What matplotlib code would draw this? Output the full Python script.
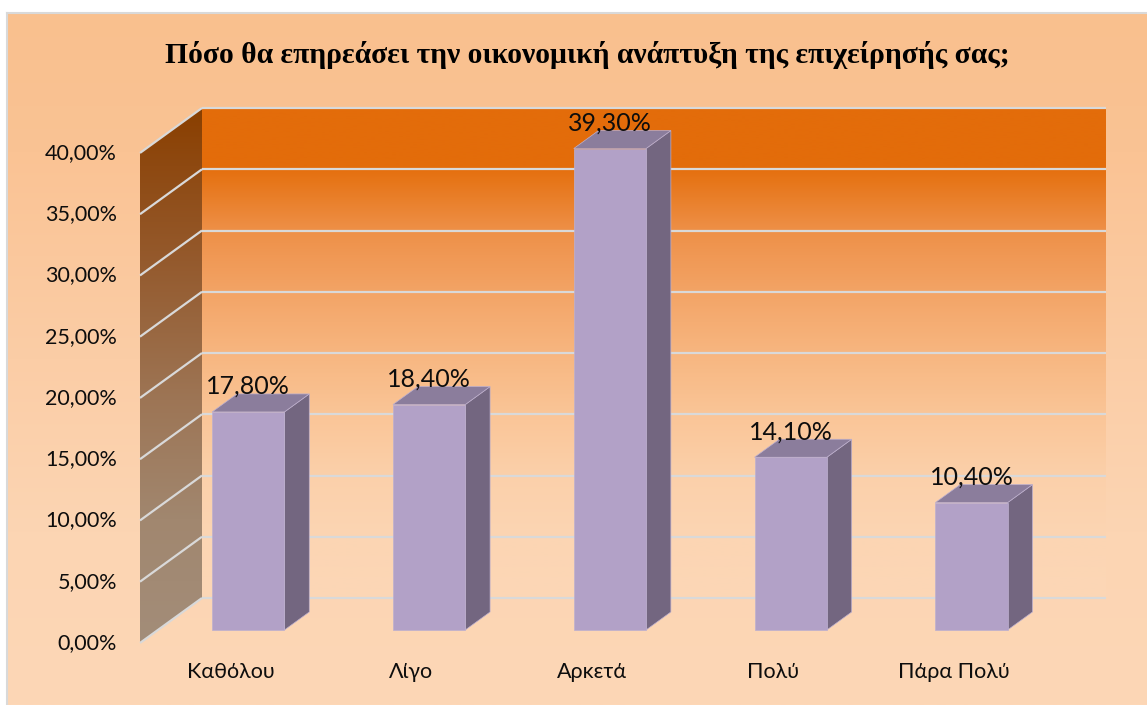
import matplotlib
import matplotlib.pyplot as plt
import numpy as np
from matplotlib.colors import to_rgb
from matplotlib.patches import Polygon

matplotlib.use("Agg")

categories = ["Καθόλου", "Λίγο", "Αρκετά", "Πολύ", "Πάρα Πολύ"]
values = [17.8, 18.4, 39.3, 14.1, 10.4]
value_labels = ["17,80%", "18,40%", "39,30%", "14,10%", "10,40%"]
y_ticks = [0, 5, 10, 15, 20, 25, 30, 35, 40]
y_tick_labels = ["0,00%", "5,00%", "10,00%", "15,00%", "20,00%",
                 "25,00%", "30,00%", "35,00%", "40,00%"]
title = "Πόσο θα επηρεάσει την οικονομική ανάπτυξη της επιχείρησής σας;"

W, H = 1147, 705
DEPTH_X = 0.343   # shift back wall -> front plane, category units
DEPTH_Y = 3.67    # same shift, percent units
BAR_W = 0.4
Z_FRONT, Z_BACK = 0.289, 0.689

FRONT = "#B2A1C7"
SIDE = "#736680"
TOP = "#8B7D9C"
GRID = "#D9D9D9"

# colour stops (y in data units) for the walls
back_stops = [(0, "#FCD7B6"), (5, "#FCD5B3"), (10, "#FBD0AA"), (15, "#FAC597"),
              (20, "#F7B680"), (25, "#F3A466"), (30, "#EE9048"), (35, "#E5700F"),
              (35.01, "#E36C0A"), (40, "#E36C0A")]
side_stops = [(-3.7, "#A38D79"), (6.4, "#A1876F"), (16.2, "#9D7555"),
              (28.4, "#94582A"), (40, "#8A3F00")]
bg_stops = [(0.0, "#FDD7B6"), (0.25, "#FCD5B3"), (0.5, "#FBCDA6"),
            (0.8, "#FAC394"), (1.0, "#F9C08E")]


def proj(x, y, z):
    # z = 1 is the back wall, z = 0 the front plane
    return x - (1 - z) * DEPTH_X, y - (1 - z) * DEPTH_Y


def stops_image(stops, lo, hi, n=300):
    ys = np.linspace(lo, hi, n)
    pos = [s[0] for s in stops]
    rgb = [to_rgb(s[1]) for s in stops]
    cols = np.stack([np.interp(ys, pos, [c[k] for c in rgb]) for k in range(3)], axis=1)
    return cols[:, None, :]


def gradient_poly(ax, verts, stops, zorder):
    verts = np.array(verts)
    poly = Polygon(verts, closed=True, facecolor="none", edgecolor="none")
    ax.add_patch(poly)
    x0, x1 = verts[:, 0].min(), verts[:, 0].max()
    y0, y1 = verts[:, 1].min(), verts[:, 1].max()
    img = stops_image(stops, y0, y1)
    im = ax.imshow(img, extent=(x0, x1, y0, y1), origin="lower", aspect="auto",
                   interpolation="bilinear", zorder=zorder)
    im.set_clip_path(poly)


fig = plt.figure(figsize=(W / 100, H / 100), dpi=100)
fig.patch.set_facecolor("white")

# chart area background
bg = fig.add_axes([7 / W, 0, 1 - 7 / W, (H - 13) / H])
bg.imshow(stops_image(bg_stops, 0, 1), extent=(0, 1, 0, 1), origin="lower",
          aspect="auto", interpolation="bilinear")
bg.set_xlim(0, 1)
bg.set_ylim(0, 1)
bg.set_xticks([])
bg.set_yticks([])
for name, sp in bg.spines.items():
    sp.set_visible(name in ("left", "top"))
    sp.set_color(GRID)
    sp.set_linewidth(1.5)

ax = fig.add_axes([0, 0, 1, 1])
ax.patch.set_alpha(0)
ax.axis("off")

xlim = (-0.5 - 202 / 180.8, -0.5 + (W - 202) / 180.8)
ylim = (-(H - 598) / 12.25, 598 / 12.25)

n = len(categories)
ymax = y_ticks[-1]

# walls
back = [proj(-0.5, 0, 1), proj(n - 0.5, 0, 1), proj(n - 0.5, ymax, 1), proj(-0.5, ymax, 1)]
side = [proj(-0.5, 0, 0), proj(-0.5, 0, 1), proj(-0.5, ymax, 1), proj(-0.5, ymax, 0)]
gradient_poly(ax, back, back_stops, 1)
gradient_poly(ax, side, side_stops, 1)

# gridlines on both walls
for t in y_ticks:
    xa, ya = proj(-0.5, t, 1)
    xb, yb = proj(n - 0.5, t, 1)
    ax.plot([xa, xb], [ya, yb], color=GRID, lw=1.6, zorder=2, solid_capstyle="butt")
    xc, yc = proj(-0.5, t, 0)
    ax.plot([xc, xa], [yc, ya], color=GRID, lw=1.6, zorder=2, solid_capstyle="butt")

# bars
for i, v in enumerate(values):
    x0, x1 = i - BAR_W / 2, i + BAR_W / 2
    front = [proj(x0, 0, Z_FRONT), proj(x1, 0, Z_FRONT), proj(x1, v, Z_FRONT), proj(x0, v, Z_FRONT)]
    right = [proj(x1, 0, Z_FRONT), proj(x1, 0, Z_BACK), proj(x1, v, Z_BACK), proj(x1, v, Z_FRONT)]
    top = [proj(x0, v, Z_FRONT), proj(x1, v, Z_FRONT), proj(x1, v, Z_BACK), proj(x0, v, Z_BACK)]
    for verts, col in ((right, SIDE), (top, TOP), (front, FRONT)):
        ax.add_patch(Polygon(verts, closed=True, facecolor=col, edgecolor="#BDB0CF",
                             lw=0.5, zorder=3))
    lx = proj(i, v, Z_FRONT)[0]
    ly = proj(i, v, Z_BACK)[1]
    ax.text(lx, ly, value_labels[i], ha="center", va="baseline", fontsize=18,
            family="Lato", color="#0D0D0D", zorder=4)

# axis labels
for t, lab in zip(y_ticks, y_tick_labels):
    ax.annotate(lab, proj(-0.5, t, 0), xytext=(-16.5, 0), textcoords="offset points",
                ha="right", va="center", fontsize=15.5, family="Lato", color="#0D0D0D")

for i, lab in enumerate(categories):
    ax.annotate(lab, proj(i, 0, 0), xytext=(0, -21), textcoords="offset points",
                ha="center", va="center", fontsize=15.5, family="Lato", color="#0D0D0D")

ax.set_xlim(*xlim)
ax.set_ylim(*ylim)

fig.text(587 / W, 1 - 55 / H, title, ha="center", va="center", fontsize=21.3,
         family="Liberation Serif", fontweight="bold", color="black")

fig.savefig("out.png", dpi=100, facecolor="white")
plt.close(fig)
